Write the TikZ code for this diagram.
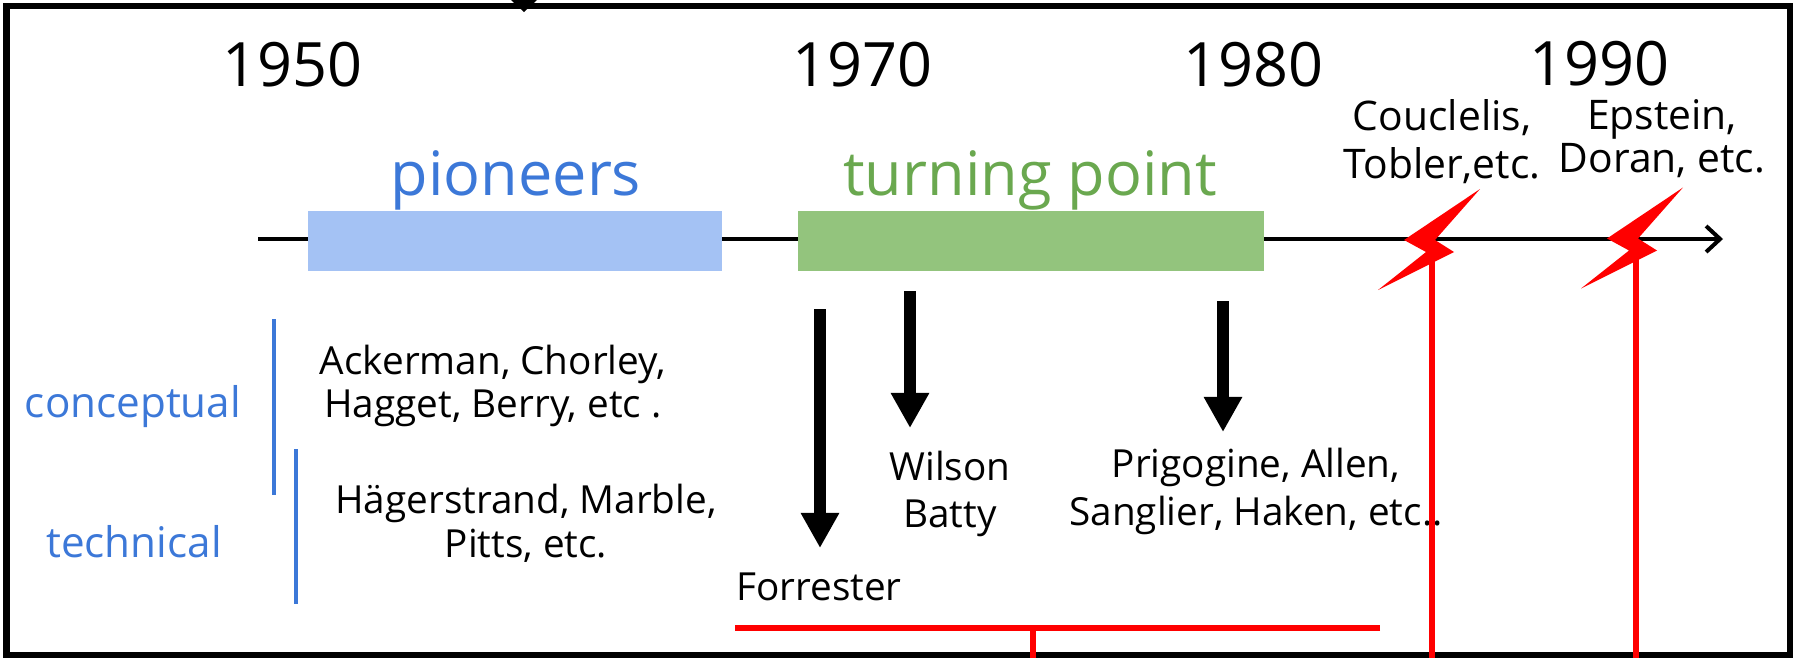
\documentclass[tikz,border=0pt]{standalone}
\usepackage{fontspec}
\setmainfont{Open Sans}
\usetikzlibrary{arrows.meta}
\definecolor{pioblue}{HTML}{A4C2F4}
\definecolor{turngreen}{HTML}{93C47D}
\definecolor{labblue}{HTML}{3C78D8}
\definecolor{labgreen}{HTML}{6AA84F}

\begin{document}
\begin{tikzpicture}[x=0.01cm, y=-0.01cm,
    year/.style = {anchor=base, inner sep=0pt, font=\fontsize{17.4}{20}\selectfont},
    era/.style = {anchor=base, inner sep=0pt, font=\fontsize{17.4}{21}\selectfont},
    names/.style = {align=center, anchor=base, inner sep=0pt, font=\fontsize{11}{12.8}\selectfont},
    kind/.style = {anchor=base, inner sep=0pt, text=labblue, font=\fontsize{12}{14}\selectfont},
    bar/.style = {minimum height=0.6cm, inner sep=0pt},
    bigarrow/.style = {line width=0.12cm, -{Triangle[length=0.35cm, width=0.36cm]}},
    redline/.style = {red, line width=0.06cm}]
    \useasboundingbox (0,0) rectangle (1797,657);

    % frame
    \draw[line width=0.06cm] (6.5,5.5) rectangle (1790,655);
    \fill (511,0) -- (537,0) -- (524,12) -- cycle;

    % time axis
    \coordinate (ax0) at (258,239);
    \coordinate (ax1) at (1723,239);
    \draw[line width=0.04cm, -{Straight Barb[length=0.14cm, width=0.26cm]}] (ax0) -- (ax1);

    \node[bar, fill=pioblue, minimum width=4.14cm] (pio) at (515,241) {};
    \node[bar, fill=turngreen, minimum width=4.66cm] (turn) at (1031,241) {};
    \node[era, text=labblue] (piolab) at (516,195) {pioneers};
    \node[era, text=labgreen] (turnlab) at (1030,195) {turning point};

    \foreach \yr/\xx/\yy in {1950/292/86, 1970/862/86, 1980/1253/86, 1990/1599/85}
        \node[year] (y\yr) at (\xx,\yy) {\yr};

    % lightning bolts
    \foreach \bx/\by in {0/0, 203/-1.5}
        \fill[red, shift={(\bx,\by)}] (1480,189) -- (1435,240) -- (1454,252) -- (1378,290)
            -- (1426,252) -- (1404,240) -- cycle;

    % left side
    \draw[labblue, line width=0.035cm] (274,319) -- (274,495);
    \draw[labblue, line width=0.035cm] (296,449) -- (296,604);
    \node[kind] (concept) at (133,417) {conceptual};
    \node[kind] (techn) at (134,557) {technical};
    \node[names, font=\fontsize{11}{11.95}\selectfont] (ack) at (493,417) {Ackerman, Chorley,\\Hagget, Berry, etc .};
    \node[names, font=\fontsize{11}{12.5}\selectfont] (hag) at (526,557) {Hägerstrand, Marble,\\Pitts, etc.};

    % arrows and names
    \coordinate (fs) at (820,309);
    \coordinate (fe) at (820,548);
    \coordinate (ws) at (910,291);
    \coordinate (we) at (910,428);
    \coordinate (ps) at (1223,301);
    \coordinate (pe) at (1223,432);
    \draw[bigarrow] (fs) -- (fe);
    \draw[bigarrow] (ws) -- (we);
    \draw[bigarrow] (ps) -- (pe);
    \node[names] (forr) at (819,600) {Forrester};
    \node[names, font=\fontsize{11}{13.1}\selectfont] (wil) at (950,527) {Wilson\\Batty};
    \node[names, font=\fontsize{11}{13.4}\selectfont] (pri) at (1256,525) {Prigogine, Allen,\\Sanglier, Haken, etc..};
    \node[names, font=\fontsize{11.6}{13.4}\selectfont] (cou) at (1442,178) {Couclelis,\\Tobler,etc.};
    \node[names, font=\fontsize{11.6}{9.4}\selectfont] (eps) at (1662,172) {Epstein,\\Doran, etc.};

    % red lines
    \draw[redline] (1380,628) -- (735,628);
    \draw[redline] (1033,628) -- (1033,660);
    \draw[redline] (1432,252) -- (1432,660);
    \draw[redline] (1636,251) -- (1636,660);
\end{tikzpicture}
\end{document}
